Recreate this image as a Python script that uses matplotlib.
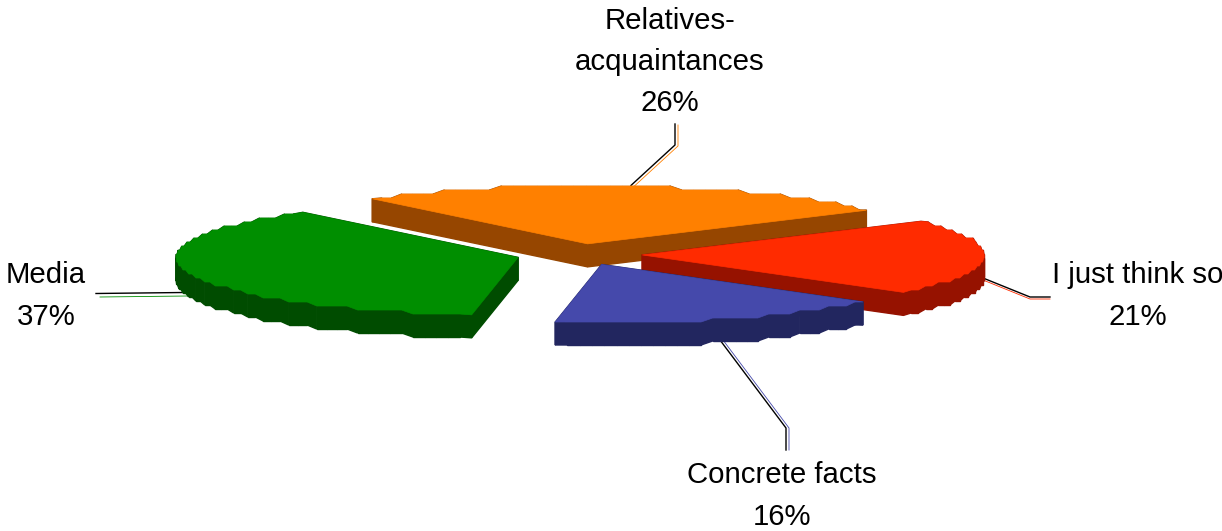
import numpy as np
import matplotlib
matplotlib.use('Agg')
import matplotlib.pyplot as plt
from matplotlib.patches import Polygon

plt.rcParams['font.family'] = ['Liberation Sans', 'DejaVu Sans']

# data
names = ['Relatives-\nacquaintances', 'I just think so', 'Concrete facts', 'Media']
shares = [26, 21, 16, 37]

# look of each slice, same order as the data
top_colors = ['#FF8000', '#FF2B00', '#4549AB', '#008E00']
wall_colors = ['#964600', '#961200', '#22265F', '#004C00']
line_colors = ['#FF8000', '#FF2B00', '#4549AB', '#008E00']
draw_order = [0, 1, 3, 2]

# pie layout, in pixels
cx, cy = 579, 254.5
rx, ry = 342, 58
explode = 0.185
thick = 23
start_angle = 129
snap = 4    # the rim of the original is stair stepped
snap_shift = 2
step_deg = 2

# label centres, elbow of each leader line and the shift of its black twin
label_xy = [(670, 62), (1138, 296), (782, 496), (46, 296)]
elbows = [[(678, 146), (678, 125)],
          [(1030, 299), (1050, 299)],
          [(789, 428), (789, 450)],
          [(100, 297)]]
black_shift = [(-3, -1), (0, -2), (-3, 0), (-4, -3.5)]

fig = plt.figure(figsize=(12.22, 5.31), dpi=100)
ax = fig.add_axes([0, 0, 1, 1])
ax.set_xlim(0, 1222)
ax.set_ylim(531, 0)
ax.axis('off')

# slice angles, going clockwise
spans = np.array(shares) / sum(shares) * 360
ends = start_angle - np.cumsum(spans)
starts = ends + spans


def slice_points(a0, a1):
    mid = np.radians((a0 + a1) / 2)
    ax0 = cx + explode * rx * np.cos(mid)
    ay0 = cy - explode * ry * np.sin(mid)
    n = max(int((a0 - a1) / step_deg), 2)
    t = np.radians(np.linspace(a0, a1, n + 1))
    xs = ax0 + rx * np.cos(t)
    ys = ay0 - ry * np.sin(t)
    ys[1:-1] = np.round((ys[1:-1] - snap_shift) / snap) * snap + snap_shift
    pts = np.column_stack([xs, ys])
    return np.vstack([[ax0, ay0], pts]), (ax0, ay0, mid)


for i in draw_order:
    pts, apex = slice_points(starts[i], ends[i])
    low = pts + [0, thick]
    # walls first, the top face then hides the ones facing away
    for k in range(len(pts)):
        j = (k + 1) % len(pts)
        ax.add_patch(Polygon([pts[k], pts[j], low[j], low[k]], facecolor=wall_colors[i],
                             edgecolor=wall_colors[i], lw=1.0, zorder=2 + i * 0.1))
    ax.add_patch(Polygon(pts, facecolor=top_colors[i], edgecolor=top_colors[i],
                         lw=0.5, zorder=2 + i * 0.1))

for i in range(4):
    _, (ax0, ay0, mid) = slice_points(starts[i], ends[i])
    x0 = ax0 + rx * np.cos(mid)
    y0 = ay0 - ry * np.sin(mid)
    # back slices start at the top rim, the others under their wall
    if np.sin(mid) < 0.5:
        y0 += thick
    path = np.array([(x0, y0)] + elbows[i])
    ax.plot(path[:, 0], path[:, 1], color=line_colors[i], lw=0.6, zorder=1)
    ax.plot(path[:, 0] + black_shift[i][0], path[:, 1] + black_shift[i][1], color='black',
            lw=1.0, zorder=1)
    ax.text(label_xy[i][0], label_xy[i][1], f'{names[i]}\n{shares[i]}%', ha='center',
            va='center', fontsize=21.2, linespacing=1.6, color='black')

fig.savefig('out.png', dpi=100, facecolor='white')
